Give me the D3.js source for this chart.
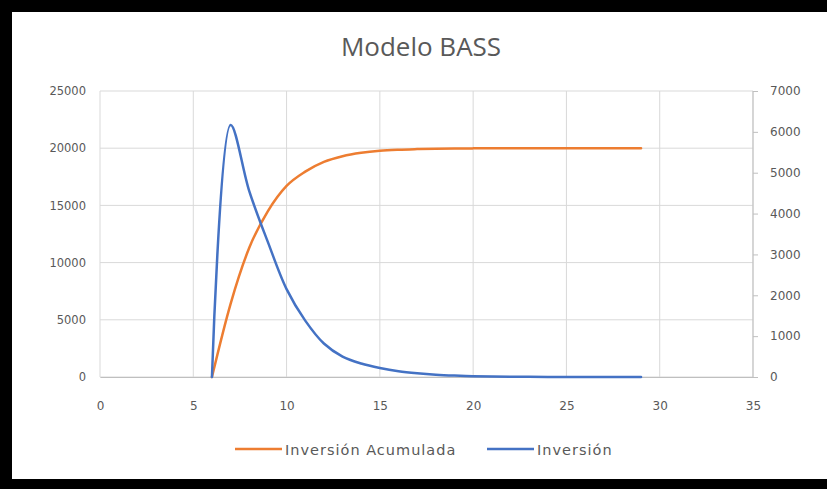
<!DOCTYPE html>
<html>
<head>
<meta charset="utf-8">
<script src="https://cdn.jsdelivr.net/npm/d3@7"></script>
<style>
  html, body { margin: 0; padding: 0; background: #000; }
  svg { display: block; }
</style>
</head>
<body>
<svg id="chart" width="827" height="489"></svg>
<script>
// ---- data ----
const tValues = [6, 7, 8, 9, 10, 11, 12, 13, 14, 15, 16, 17, 18, 19, 20, 21, 22, 23, 24, 25, 26, 27, 28, 29];
const inversionAcumulada = [0, 6400, 11300, 14500, 16700, 17950, 18800, 19300, 19600, 19780, 19870, 19920, 19955, 19975, 19985, 19992, 19996, 19998, 19999, 20000, 20000, 20000, 20000, 20000];
const inversion = [0, 6170, 4550, 3300, 2150, 1380, 820, 500, 330, 220, 140, 90, 55, 34, 21, 13, 8, 5, 3, 2, 1, 1, 0, 0];
const xTicks = [0, 5, 10, 15, 20, 25, 30, 35];
const leftTicks = [0, 5000, 10000, 15000, 20000, 25000];
const rightTicks = [0, 1000, 2000, 3000, 4000, 5000, 6000, 7000];
const seriesNames = ["Inversión Acumulada", "Inversión"];
const seriesColors = ["#ED7D31", "#4472C4"];
const title = "Modelo BASS";

// ---- layout ----
const svg = d3.select("#chart");
svg.append("rect").attr("x", 12).attr("y", 12).attr("width", 815).attr("height", 467).attr("fill", "#fff");

const plot = { left: 100, right: 753, top: 91, bottom: 377 };
const x = d3.scaleLinear().domain([0, 35]).range([plot.left, plot.right]);
const yL = d3.scaleLinear().domain([0, 25000]).range([plot.bottom, plot.top]);
const yR = d3.scaleLinear().domain([0, 7000]).range([plot.bottom, plot.top]);

const font = "'DejaVu Sans', sans-serif";
const textColor = "#595959";

// gridlines
svg.append("g").selectAll("line.h").data(leftTicks).join("line")
  .attr("x1", plot.left).attr("x2", plot.right)
  .attr("y1", d => yL(d)).attr("y2", d => yL(d))
  .attr("stroke", "#d9d9d9").attr("stroke-width", 1);
svg.append("g").selectAll("line.v").data(xTicks).join("line")
  .attr("x1", d => x(d)).attr("x2", d => x(d))
  .attr("y1", plot.top).attr("y2", plot.bottom)
  .attr("stroke", "#d9d9d9").attr("stroke-width", 1);

// bottom axis
const xAxis = svg.append("g").attr("transform", `translate(0,${plot.bottom})`)
  .call(d3.axisBottom(x).tickValues(xTicks).tickSize(0).tickPadding(24).tickFormat(d3.format("d")));
xAxis.select(".domain").attr("stroke", "#bfbfbf");
xAxis.selectAll("text").attr("font-family", font).attr("font-size", 12).attr("fill", textColor);

// left axis
const yAxisL = svg.append("g").attr("transform", `translate(${plot.left},0)`)
  .call(d3.axisLeft(yL).tickValues(leftTicks).tickSize(0).tickPadding(14).tickFormat(d3.format("d")));
yAxisL.select(".domain").remove();
yAxisL.selectAll("text").attr("font-family", font).attr("font-size", 11.5).attr("fill", textColor);

// right axis
const yAxisR = svg.append("g").attr("transform", `translate(${plot.right},0)`)
  .call(d3.axisRight(yR).tickValues(rightTicks).tickSize(5).tickPadding(12).tickFormat(d3.format("d")));
yAxisR.select(".domain").attr("stroke", "#bfbfbf").attr("d", `M0,${plot.top}V${plot.bottom}`);
yAxisR.selectAll("line").attr("stroke", "#bfbfbf");
yAxisR.selectAll("text").attr("font-family", font).attr("font-size", 12).attr("fill", textColor);

// lines
const lineL = d3.line().x((d, i) => x(tValues[i])).y(d => yL(d)).curve(d3.curveCardinal.tension(0));
const lineR = d3.line().x((d, i) => x(tValues[i])).y(d => yR(d)).curve(d3.curveCatmullRom.alpha(0.5));

svg.append("path").datum(inversionAcumulada).attr("d", lineL)
  .attr("fill", "none").attr("stroke", seriesColors[0]).attr("stroke-width", 2.5).attr("stroke-linecap", "round");
svg.append("path").datum(inversion).attr("d", lineR)
  .attr("fill", "none").attr("stroke", seriesColors[1]).attr("stroke-width", 2.5).attr("stroke-linecap", "round");

// title
svg.append("text").attr("x", 421).attr("y", 56).attr("text-anchor", "middle")
  .attr("font-family", "'Open Sans', sans-serif").attr("font-size", 26).attr("fill", textColor)
  .text(title);

// legend
const legendItems = [
  { name: seriesNames[0], color: seriesColors[0], x: 235 },
  { name: seriesNames[1], color: seriesColors[1], x: 487 }
];
const lg = svg.append("g");
legendItems.forEach(it => {
  lg.append("line").attr("x1", it.x).attr("x2", it.x + 47).attr("y1", 449).attr("y2", 449)
    .attr("stroke", it.color).attr("stroke-width", 2.5);
  lg.append("text").attr("x", it.x + 50).attr("y", 454.5)
    .attr("font-family", font).attr("font-size", 14.5).attr("letter-spacing", 1.0).attr("fill", textColor)
    .text(it.name);
});
</script>
</body>
</html>
